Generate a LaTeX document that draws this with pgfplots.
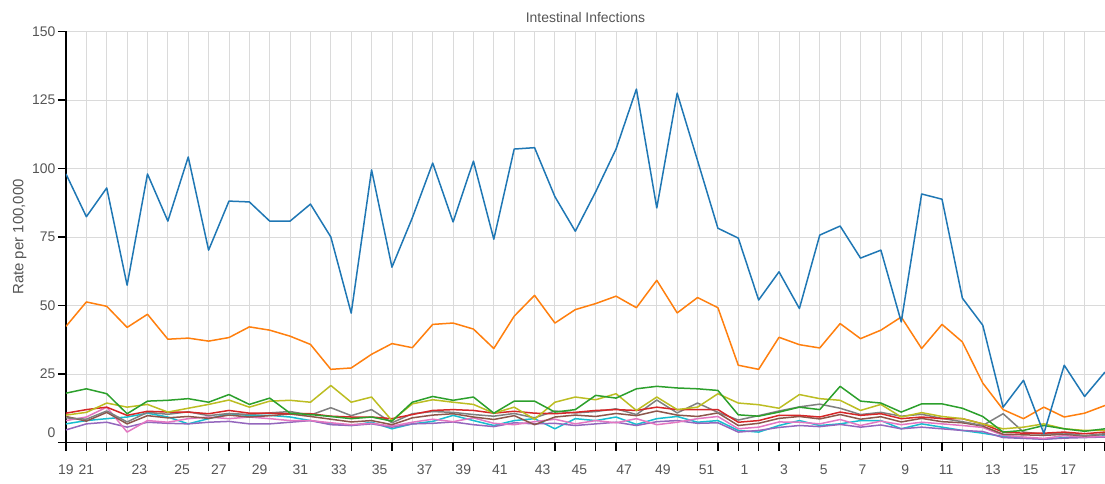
\documentclass[border=0pt]{standalone}
\usepackage{fontspec}
\setmainfont{Liberation Sans}
\usepackage{pgfplots}
\usepackage{pgfplotstable}
\pgfplotsset{compat=1.18}

\definecolor{sBlue}{HTML}{1F77B4}
\definecolor{sOrange}{HTML}{FF7F0E}
\definecolor{sGreen}{HTML}{2CA02C}
\definecolor{sRed}{HTML}{D62728}
\definecolor{sPurple}{HTML}{9467BD}
\definecolor{sBrown}{HTML}{8C564B}
\definecolor{sPink}{HTML}{E377C2}
\definecolor{sGray}{HTML}{7F7F7F}
\definecolor{sOlive}{HTML}{BCBD22}
\definecolor{sCyan}{HTML}{17BECF}
\definecolor{gridgray}{HTML}{DADADA}
\definecolor{labelgray}{HTML}{555555}

% weekly rates, index 0 = week 19 ... index 33 = week 52, index 34 = week 1
\pgfplotstableread{
i blue orange green red purple brown pink gray olive cyan
0 98 42.4 18 10.7 4.6 9.5 8 9 10 6.8
1 82.4 51.3 19.6 12 6.8 7.8 9.3 8.5 11 8
2 92.9 49.7 17.8 12.9 7.4 11 12.9 11.5 14.4 8.7
3 57.4 42 10.5 9.9 5.6 6.8 3.8 7.5 12.9 9.3
4 98 46.8 15.1 11.4 7.4 9.8 8 11 13.9 10.7
5 80.8 37.7 15.4 11.1 7 9 7.4 10.3 11.1 9.3
6 104.2 38.1 16 11.1 6.8 9.5 8.7 11.2 12.5 6.8
7 70.2 37 14.7 10.5 7.4 8.8 9.3 9.8 13.9 8.7
8 88.1 38.3 17.5 11.7 7.7 10 8.7 10.6 15.5 10.5
9 87.8 42.2 13.9 10.7 6.8 9.3 9.3 10.2 12.9 9.9
10 80.8 41 16.2 10.7 6.8 9.8 8.7 10.8 15.1 9.9
11 80.8 38.8 10.7 10.5 7.4 10.4 8 11.3 15.4 9.3
12 87 35.8 10.2 10.5 8 9.5 8 10 14.7 8
13 75 26.7 9.5 9.6 6.5 8.5 7.2 12.7 20.8 6.8
14 47.2 27.2 8.7 9.3 6.2 7.5 6.5 9.8 14.7 6.2
15 99.5 32.2 9.3 9.3 6.8 8 7 12 16.6 7.4
16 64 36.1 7.8 8.7 5.6 6.5 6 7.2 8 5
17 82 34.6 14.7 10.2 6.8 9 7.4 10.5 14.1 6.8
18 102 43.1 16.8 11.7 7 10 8.5 11.3 15.6 7.7
19 80.5 43.6 15.4 12 7.5 10.5 7.6 11 14.7 9.9
20 102.7 41.4 16.6 11.7 6.5 9.3 9 10.2 13.9 8
21 74.2 34.3 10.7 10.7 5.8 8.4 7 9.6 10.7 6.2
22 107.1 46.1 15.1 11.4 7.2 9.8 6.5 10.6 12.9 8
23 107.6 53.7 15.1 10.7 6.8 6.5 7.6 9 8.5 8.7
24 89.7 43.6 11.1 10.5 7 9.3 8.5 11.5 14.7 5
25 77.1 48.5 12 11 6.2 10 6.8 10.8 16.6 8.7
26 91.5 50.7 17.2 11.7 6.8 9.5 8 11.3 15.6 8
27 107.1 53.4 16.2 12 7.4 10.6 7.2 12.3 17.8 9.3
28 129 49.2 19.6 11.7 6.2 9.8 8.7 10.2 11.7 6.6
29 85.6 59.2 20.5 12.9 7.6 11.5 6.5 15.5 16.6 8.7
30 127.5 47.3 19.9 12 8 10 7.4 10.8 12 9.5
31 102.9 52.9 19.6 12 7 9.5 8.7 14.4 12.9 7.4
32 78.2 49.2 19 12 7.2 10.8 9.5 11 17.8 8
33 74.6 28.2 10.1 7.4 3.8 6.2 5 8.2 14.4 4.4
34 52 26.7 9.6 8 4.4 7 5.6 9.8 13.8 3.8
35 62.3 38.4 11.1 9.9 5.5 8.8 7.5 11.5 12.5 6.2
36 48.9 35.7 12.9 9.9 6.2 9.5 7.4 13 17.5 8
37 75.7 34.5 12 9.3 5.8 8.6 6.8 14 16 6.2
38 79 43.4 20.5 11.1 6.6 10.2 8.4 12.5 15.4 6.8
39 67.3 37.9 15.1 9.9 5.6 8.5 6.2 10.2 11.7 8
40 70.2 41 14.4 10.5 6.4 9.4 7.8 11 13.9 8
41 44 45.8 11.1 8.7 5 7.5 6.5 9.6 9.3 5
42 90.7 34.3 14.1 9.3 5.6 8.8 7.4 10.3 10.9 6.8
43 88.8 43.1 14.1 8.7 5 7.6 6.8 8.8 9.5 5.6
44 52.7 36.7 12.5 8.7 4.4 7.2 6.2 7.6 8.7 4.4
45 42.8 21.7 9.5 6.8 4 6 5.5 6.2 6.8 3.4
46 12.9 12 3.8 3.8 1.8 3 2.6 10.5 5 2.2
47 22.7 8.7 4.4 3.4 1.5 2.8 2 3.8 5.6 1.8
48 3.3 12.9 6.2 3.4 1.2 2.6 1.5 3 6.8 1.2
49 28.2 9.3 5 3.8 1.6 3 2.5 3.5 5 1.8
50 16.8 10.7 4.1 3.2 1.8 2.4 2 2.5 4.4 2.2
51 25.7 13.5 5 3.8 2 3 2.2 3.2 4.4 2.4
}\rates

\begin{document}
\begin{tikzpicture}
\useasboundingbox (-66bp,-41.5bp) rectangle (1039bp,442.5bp);
\begin{axis}[
    at={(0,0)}, anchor=south west,
    scale only axis, width=1039bp, height=411bp,
    xmin=0, xmax=51, ymin=0, ymax=150,
    axis x line=bottom, axis y line=left,
    axis line style={-, line width=1.3bp, black},
    % visible tick marks are minor ticks; major ticks only carry the labels
    tick align=outside, major tick length=0pt, minor tick length=8bp,
    minor tick style={black, line width=1.2bp},
    xtick={0,1,3.6,5.7,7.5,9.5,11.5,13.4,15.4,17.6,19.5,21.3,23.4,25.2,27.4,29.3,31.45,33.3,35.25,37.2,39.1,41.2,43.2,45.5,47.35,49.2},
    xticklabels={19,21,23,25,27,29,31,33,35,37,39,41,43,45,47,49,51,1,3,5,7,9,11,13,15,17},
    xticklabel style={yshift=-19bp},
    minor xtick={0,...,51},
    ytick={25,50,...,150},
    minor ytick={0,25,...,150},
    yticklabel style={xshift=-7bp},
    extra y ticks={0},
    extra y tick style={grid=none, yticklabel style={yshift=10bp}},
    /pgf/number format/assume math mode=true,
    xmajorgrids=false, xminorgrids=true, ymajorgrids=true, yminorgrids=false,
    major grid style={draw=gridgray, line width=0.9bp},
    minor grid style={draw=gridgray, line width=0.9bp},
    ticklabel style={font=\fontsize{14}{16}\selectfont, text=labelgray},
    title={Intestinal Infections},
    title style={font=\fontsize{14}{16}\selectfont, text=labelgray,
        at={(axis description cs:0.5,1)}, anchor=center, yshift=8bp},
    ylabel={Rate per 100,000},
    ylabel style={font=\fontsize{15}{17}\selectfont, text=labelgray,
        at={(axis description cs:-0.0445,0.5)}, anchor=center},
    every axis plot/.append style={mark=none, line width=1.5bp, line join=round},
]
\addplot[sCyan] table[x=i, y=cyan] {\rates};
\addplot[sPurple] table[x=i, y=purple] {\rates};
\addplot[sPink] table[x=i, y=pink] {\rates};
\addplot[sBrown] table[x=i, y=brown] {\rates};
\addplot[sGray] table[x=i, y=gray] {\rates};
\addplot[sRed] table[x=i, y=red] {\rates};
\addplot[sOlive] table[x=i, y=olive] {\rates};
\addplot[sGreen] table[x=i, y=green] {\rates};
\addplot[sOrange] table[x=i, y=orange] {\rates};
\addplot[sBlue] table[x=i, y=blue] {\rates};
\end{axis}
\end{tikzpicture}
\end{document}
